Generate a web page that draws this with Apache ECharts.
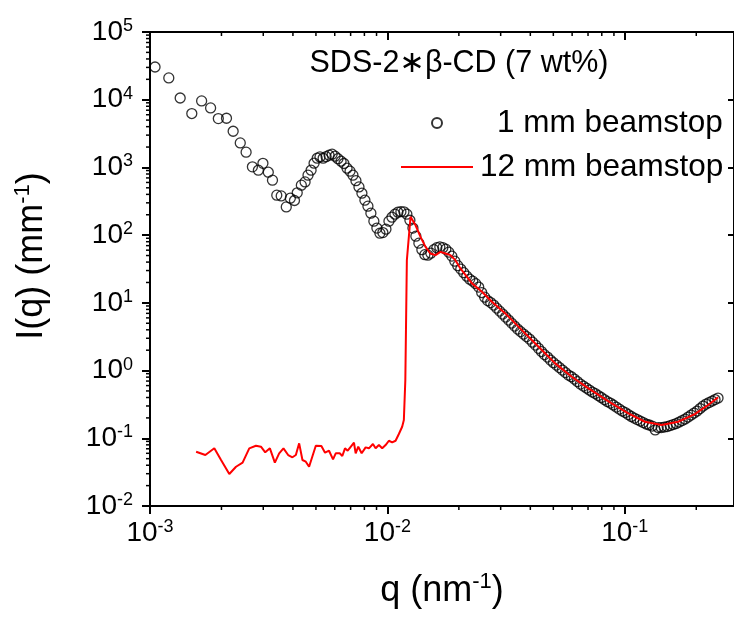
<!DOCTYPE html>
<html><head><meta charset="utf-8">
<script src="https://cdn.jsdelivr.net/npm/echarts@6/dist/echarts.min.js"></script>
<style>html,body{margin:0;padding:0;background:#fff}#c{width:734px;height:618px}</style>
</head><body><div id="c"></div><script>
// ---- data: 1 mm beamstop (open circles) ----
const circleQ = [0.00105,0.0012,0.00134,0.0015,0.00165,0.0018,0.00194,0.0021,0.00224,0.0024,0.00254,0.0027,0.00286,0.00299,0.00315,0.00328,0.00342,0.00357,0.00375,0.0039,0.00406,0.00417,0.00434,
0.0045,0.00463,0.00477,0.00491,0.00506,0.0052,0.00536,0.00552,0.00568,0.00585,0.00602,0.00619,0.00638,0.00656,0.00676,0.00696,0.00716,0.00737,0.00759,0.00781,0.00804,0.00828,0.00852,0.00877,0.00903,0.0093,0.00957,0.00986,
0.01015,0.01045,0.01076,0.01107,0.0114,0.01174,0.01208,0.01244,0.01281,0.01318,0.01357,0.01397,0.01438,0.01481,0.01524,0.01569,0.01615,0.01663,0.01712,0.01762,0.01814,0.01868,0.01923,0.01979,
0.02037,0.02097,0.02159,0.02222,0.02288,0.02355,0.02424,0.02496,0.02569,0.02645,0.02723,0.02803,0.02886,0.02971,0.03058,0.03148,0.03241,0.03336,0.03434,0.03535,0.0364,0.03745,0.03855,0.03969,
0.04086,0.04206,0.0433,0.04457,0.04588,0.04723,0.04862,0.05005,0.05153,0.05304,0.0546,0.05621,0.05787,0.05957,0.06132,0.06313,0.06499,0.0669,0.0689,0.0709,0.073,0.0751,0.0773,0.0796,0.082,0.0844,0.0869,0.0894,0.0921,0.0948,0.0976,
0.1005,0.1034,0.1065,0.1096,0.1128,0.1162,0.1196,0.1231,0.1267,0.1304,0.1343,0.1382,0.1423,0.1465,0.1508,0.1553,0.1598,0.1645,0.1694,0.1744,0.1795,0.1848,0.1902,0.1958,0.2016,0.2075,0.2136,0.2199,0.2264,0.2331,0.2399,0.247];
const circleI = [30400,21000,10600,6250,9600,7560,5270,5320,3420,2300,1680,1020,910,1150,850,648,389,380,261,351,325,421,547,
611,768,910,1154,1368,1430,1368,1440,1515,1567,1464,1345,1235,1142,974,880,768,637,516,416,328,268,211,161,127,107,109,122.5,
161,184,204,218,222,221,204,166,127,96.6,76.1,61.1,51.5,50.6,54.2,61.1,65.3,67.1,65.3,62.1,56.1,49.0,41.3,35.4,
31.5,27.9,24.8,22.4,20.9,19.2,17.1,14.2,12.15,10.8,10.1,9.26,8.36,7.55,6.82,6.16,5.56,5.02,4.54,4.10,3.76,3.46,3.18,2.92,
2.63,2.38,2.13,1.91,1.72,1.58,1.43,1.31,1.205,1.107,1.017,0.934,0.858,0.810,0.749,0.688,0.632,0.590,0.552,0.516,0.482,0.458,0.428,0.400,0.373,0.349,0.331,0.310,0.289,0.270,0.2525,
0.240,0.224,0.2096,0.199,0.189,0.1798,0.1708,0.1623,0.157,0.1517,0.133,0.1441,0.1441,0.1466,0.1491,0.1543,0.1596,0.1651,0.1737,0.1829,0.1924,0.206,0.2204,0.236,0.2525,0.275,0.2993,0.320,0.337,0.355,0.373,0.393];

// ---- data: 12 mm beamstop (red line) ----
const redQ = [0.001564,0.001711,0.001866,0.001992,0.002158,0.002303,0.002455,0.002619,0.002794,0.002933,0.003058,0.003199,0.003357,0.0035,0.003649,0.003819,0.003981,0.004115,0.004249,0.004387,0.004532,0.004679,0.004993,0.005271,0.005462,0.005677,0.005902,0.006058,0.006297,0.006458,0.006628,0.006803,0.006977,0.007231,0.007351,0.007538,0.00779,0.008097,0.00836,0.00869,0.00892,0.00921,0.009509,0.009828,0.010146,0.010475,0.010825,0.011176,0.011539,0.011731,0.0119,0.012077,0.012517,0.013137,0.013788,0.01447,0.015187,0.01594,0.016728,0.017559,0.018431,0.019339,0.020297,0.02164,0.022713,0.025024,0.027565,0.031379,0.036848,0.043307,0.050895,0.059777,0.070237,0.088002,0.10345,0.12159,0.14276,0.16779,0.1972,0.2243,0.24711];
const redI = [0.0633,0.0566,0.0711,0.0478,0.0297,0.0380,0.0436,0.0711,0.0777,0.0751,0.0621,0.0711,0.0436,0.0600,0.0711,0.0566,0.0524,0.0566,0.0842,0.0478,0.0451,0.0380,0.0777,0.0769,0.0612,0.0655,0.0489,0.0600,0.0600,0.0547,0.0711,0.0655,0.0735,0.0860,0.0600,0.0751,0.0600,0.0735,0.0711,0.0823,0.0711,0.0795,0.0711,0.0795,0.0920,0.0872,0.0920,0.1156,0.1481,0.186,0.724,42.7,187,140,94.3,67.1,53.6,50.6,56.6,53.6,50.6,42.7,32.2,24.2,19.4,14.6,10.4,6.99,3.96,2.245,1.277,0.810,0.546,0.328,0.2335,0.1755,0.157,0.1755,0.228,0.310,0.402];

// ---- axis ticks ----
const xMinorTicks = [0.002,0.003,0.004,0.005,0.006,0.007,0.008,0.009,0.02,0.03,0.04,0.05,0.06,0.07,0.08,0.09,0.2];
const yMinorTicks = [0.02,0.03,0.04,0.05,0.06,0.07,0.08,0.09,0.2,0.3,0.4,0.5,0.6,0.7,0.8,0.9,2,3,4,5,6,7,8,9,20,30,40,50,60,70,80,90,200,300,400,500,600,700,800,900,2000,3000,4000,5000,6000,7000,8000,9000,20000,30000,40000,50000,60000,70000,80000,90000];
const xRange = [0.001, 0.2884];
const yRange = [0.01, 100000];
const seriesNames = ['1 mm beamstop', '12 mm beamstop'];
const titleText = 'SDS-2\u2217\u03B2-CD (7 wt%)';

const FONT = '"Liberation Sans", Arial, "DejaVu Sans", sans-serif';
function powLabel(v) {
  const e = Math.log10(v), r = Math.round(e);
  if (Math.abs(e - r) > 1e-6) return '';
  return '{b|10}{s|' + r + '}';
}
const tickRich = {
  b: {fontSize: 28, fontFamily: FONT, color: '#000', lineHeight: 30},
  s: {fontSize: 18, fontFamily: FONT, color: '#000', lineHeight: 12, verticalAlign: 'top'}
};
const nameRich = {
  a: {fontSize: 36, fontFamily: FONT, color: '#000', lineHeight: 40},
  s: {fontSize: 22, fontFamily: FONT, color: '#000', lineHeight: 14, verticalAlign: 'top'}
};

const chart = echarts.init(document.getElementById('c'), null, {renderer: 'canvas'});
chart.setOption({
  animation: false,
  backgroundColor: '#fff',
  grid: {left: 150, top: 32, width: 586, bottom: 112, containLabel: false},
  graphic: [{
    type: 'text', x: 459, y: 64,
    style: {text: titleText, fontSize: 30.5, fontFamily: FONT, fill: '#000', align: 'center', verticalAlign: 'middle', textAlign: 'center', textVerticalAlign: 'middle'}
  }],
  legend: {
    orient: 'vertical', left: 395, top: 102, itemWidth: 72, itemHeight: 10, itemGap: 12,
    textStyle: {fontSize: 31.5, fontFamily: FONT, color: '#000'},
    data: [
      {name: seriesNames[0], textStyle: {padding: [0, 0, 0, 19]}},
      {name: seriesNames[1], textStyle: {padding: [0, 0, 0, 2]}, itemStyle: {opacity: 0, color: 'rgba(0,0,0,0)', borderWidth: 0}}
    ]
  },
  xAxis: [{
    type: 'log', logBase: 10, min: xRange[0], max: xRange[1], splitNumber: 3, position: 'bottom',
    axisLine: {show: true, lineStyle: {color: '#000', width: 2}},
    axisTick: {show: true, inside: false, length: 8, lineStyle: {color: '#000', width: 2}},
    axisLabel: {formatter: powLabel, margin: 12, rich: tickRich, showMaxLabel: false},
    splitLine: {show: false},
    name: '{a|q (nm}{s|-1}{a|)}', nameLocation: 'middle', nameGap: 65,
    nameTextStyle: {rich: nameRich}
  }, {
    type: 'log', logBase: 10, min: xRange[0], max: xRange[1], splitNumber: 3, position: 'top',
    axisLine: {show: true, lineStyle: {color: '#000', width: 2}},
    axisTick: {show: true, inside: true, length: 8, lineStyle: {color: '#000', width: 2}},
    axisLabel: {show: false}, splitLine: {show: false}
  }],
  yAxis: [{
    type: 'log', logBase: 10, min: yRange[0], max: yRange[1], splitNumber: 7, position: 'left',
    axisLine: {show: true, lineStyle: {color: '#000', width: 2}},
    axisTick: {show: true, inside: false, length: 8, lineStyle: {color: '#000', width: 2}},
    axisLabel: {formatter: powLabel, margin: 17, rich: tickRich},
    splitLine: {show: false},
    name: '{a|I(q) (mm}{s|-1}{a|)}', nameLocation: 'middle', nameGap: 98, nameRotate: 90,
    nameTextStyle: {rich: nameRich, padding: [0, 0, 0, 26]}
  }, {
    type: 'log', logBase: 10, min: yRange[0], max: yRange[1], splitNumber: 7, position: 'right',
    axisLine: {show: true, lineStyle: {color: '#000', width: 2}},
    axisTick: {show: true, inside: true, length: 6, lineStyle: {color: '#000', width: 2}},
    axisLabel: {show: false}, splitLine: {show: false}
  }],
  series: [{
    type: 'scatter', name: seriesNames[0], xAxisIndex: 0, yAxisIndex: 0,
    data: circleQ.map((q, i) => [q, circleI[i]]),
    symbol: 'circle', symbolSize: 10, silent: true,
    itemStyle: {color: 'rgba(0,0,0,0)', borderColor: '#000', borderWidth: 1.3}, z: 2
  }, {
    type: 'line', name: seriesNames[1], xAxisIndex: 0, yAxisIndex: 0,
    data: redQ.map((q, i) => [q, redI[i]]),
    symbol: 'none', showSymbol: false, silent: true,
    lineStyle: {color: '#ff0000', width: 2}, itemStyle: {color: '#ff0000'}, z: 3
  }, {
    type: 'custom', name: 'xminor', xAxisIndex: 0, yAxisIndex: 0, silent: true, clip: false, z: 4,
    data: xMinorTicks.map(v => [v, 1]),
    renderItem: (params, api) => {
      const x = api.coord([api.value(0), 1])[0];
      const cs = params.coordSys, b = cs.y + cs.height;
      return {type: 'group', children: [
        {type: 'line', shape: {x1: x, y1: b, x2: x, y2: b + 4}, style: {stroke: '#000', lineWidth: 1.5}},
        {type: 'line', shape: {x1: x, y1: cs.y, x2: x, y2: cs.y + 4}, style: {stroke: '#000', lineWidth: 1.5}}
      ]};
    }
  }, {
    type: 'custom', name: 'yminor', xAxisIndex: 0, yAxisIndex: 0, silent: true, clip: false, z: 4,
    data: yMinorTicks.map(v => [0.01, v]),
    renderItem: (params, api) => {
      const y = api.coord([0.01, api.value(1)])[1];
      const cs = params.coordSys;
      return {type: 'line', shape: {x1: cs.x - 4, y1: y, x2: cs.x, y2: y}, style: {stroke: '#000', lineWidth: 1.5}};
    }
  }]
});
</script></body></html>
